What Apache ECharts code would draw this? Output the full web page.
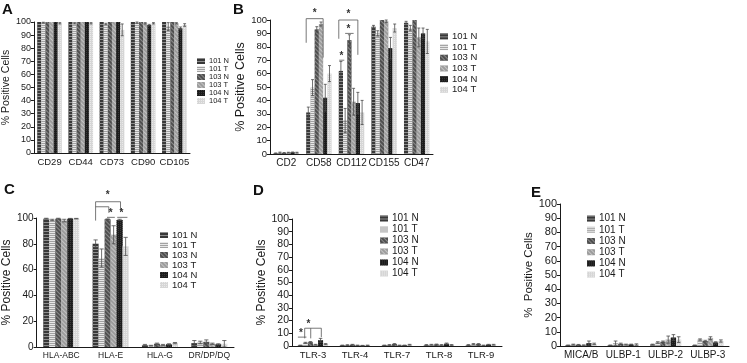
<!DOCTYPE html>
<html>
<head>
<meta charset="utf-8">
<script src="https://cdn.jsdelivr.net/npm/echarts@6/dist/echarts.min.js"></script>
<style>
  html, body { margin: 0; padding: 0; background: #fff; }
  #chart { width: 747px; height: 363px; }
</style>
</head>
<body>
<div id="chart"></div>
<script>
// donneurs / échantillons
const seriesNames = ["101 N", "101 T", "103 N", "103 T", "104 N", "104 T"];

// A
const catsA = ["CD29", "CD44", "CD73", "CD90", "CD105"];
const valsA = [
  [100, 100, 100, 100, 100],
  [99.5, 99, 98.5, 99.5, 96.5],
  [100, 100, 100, 100, 100],
  [100, 100, 100, 99, 99],
  [100, 100, 100, 97.7, 95.2],
  [99, 99, 94, 99, 97.7],
];
const errA = [
  [0, 0, 0, 0, 0],
  [0.3, 0.5, 0.5, 0.5, 3],
  [0, 0, 0, 0, 0],
  [0, 0, 0, 0.5, 0.5],
  [0, 0, 0, 0.5, 1],
  [0.5, 0.5, 4.5, 0.5, 1],
];

// B
const catsB = ["CD2", "CD58", "CD112", "CD155", "CD47"];
const valsB = [
  [0.5, 31, 62, 95, 98],
  [1, 49.5, 25, 90, 94],
  [0.8, 93, 85, 100, 100],
  [1, 97, 39, 99, 87],
  [1.2, 42, 38, 79, 90],
  [1, 60, 31, 94, 84],
];
const errB = [
  [0.3, 4, 7, 1, 1],
  [0.4, 6, 9, 2, 2],
  [0.3, 2, 4, 0, 0],
  [0.3, 1.5, 10, 1, 7],
  [0.3, 10, 8, 8, 4],
  [0.3, 6, 9, 3, 9],
];

// C
const catsC = ["HLA-ABC", "HLA-E", "HLA-G", "DR/DP/DQ"];
const valsC = [
  [99.5, 80, 1.5, 3],
  [98.5, 69, 1, 3.5],
  [99.5, 99, 2.5, 4],
  [98, 87, 1.5, 2.5],
  [99.5, 98.5, 2, 2],
  [99.5, 78, 3, 2.5],
];
const errC = [
  [0.3, 3, 0.5, 2],
  [0.5, 7, 0.3, 1],
  [0.3, 0.3, 0.5, 1.5],
  [1, 7, 0.5, 0.5],
  [0.2, 0.5, 0.5, 0.5],
  [0.2, 7, 0.5, 2.5],
];

// D
const catsD = ["TLR-3", "TLR-4", "TLR-7", "TLR-8", "TLR-9"];
const valsD = [
  [0.5, 0.5, 0.5, 0.8, 0.8],
  [2.5, 0.7, 0.8, 1, 1.5],
  [3, 1, 1.5, 1.2, 1.5],
  [1, 0.5, 0.5, 0.8, 0.5],
  [4.5, 0.3, 0.5, 1.8, 1],
  [1.5, 0.5, 1, 0.8, 1],
];
const errD = [
  [0.2, 0.2, 0.2, 0.3, 0.3],
  [0.4, 0.3, 0.3, 0.3, 0.4],
  [0.5, 0.3, 0.4, 0.3, 0.4],
  [0.3, 0.2, 0.2, 0.3, 0.2],
  [1.5, 0.2, 0.2, 0.5, 0.3],
  [0.4, 0.2, 0.3, 0.3, 0.3],
];

// E
const catsE = ["MICA/B", "ULBP-1", "ULBP-2", "ULBP-3"];
const valsE = [
  [0.5, 0.5, 1, 0.5],
  [1, 2, 2.5, 4.5],
  [0.8, 1.5, 3, 3.5],
  [0.5, 1, 4.5, 5.5],
  [2, 1, 6, 2.5],
  [1.5, 1, 4.5, 3.5],
];
const errE = [
  [0.2, 0.2, 0.3, 0.2],
  [0.3, 1.5, 0.5, 0.5],
  [0.3, 0.5, 0.5, 0.5],
  [0.3, 0.3, 2.5, 1],
  [1.5, 0.3, 2, 0.5],
  [0.5, 0.5, 2, 0.8],
];

// annotations de significativité : [catégorie, barre1, valeur1, barre2, valeur2]
const bracketsB = [
  [1, -0.5, 83, -0.5, 101], [1, -0.5, 101, 3.5, 101], [1, 3.5, 101, 3.5, 72],
  [2, -0.5, 86, -0.5, 100], [2, -0.5, 100, 4, 100], [2, 4, 100, 4, 74],
  [2, 1, 90, 3, 90], [2, -0.4, 70, 0.8, 70],
];
const starsB = [[1, 1.5, 105], [2, 1.8, 104], [2, 1.8, 93], [2, 0.1, 73]];

const bracketsC = [
  [1, 0, 98, 0, 112.6], [1, 0, 112.6, 4.15, 112.6], [1, 4.15, 112.6, 4.15, 106],
  [1, 0, 108.7, 2.2, 108.7], [1, 2.2, 108.7, 2.2, 104],
  [1, 1.9, 100.5, 3.2, 100.5], [1, 3.6, 100.5, 5.3, 100.5],
];
const starsC = [[1, 2, 118], [1, 2.5, 103.5], [1, 4.3, 103.5]];

const bracketsD = [
  [0, -0.5, 7, 1.2, 7],
  [0, 0.85, 14, 4.15, 14], [0, 0.85, 14, 0.85, 6], [0, 2.05, 14, 2.05, 6], [0, 4.15, 14, 4.15, 7],
];
const starsD = [[0, 0.1, 10], [0, 1.6, 17]];

const textColor = "#1a1a1a";
const font = "Liberation Sans, Arial, sans-serif";

// motifs des barres
const barStyles = [
  { color: "#383838", decal: { symbol: "rect", symbolSize: 1, color: "#8e8e8e", dashArrayX: [1, 0], dashArrayY: [1, 2] } },
  { color: "#a2a2a2", decal: { symbol: "rect", symbolSize: 1, color: "#e8e8e8", dashArrayX: [1, 0], dashArrayY: [1, 1] } },
  { color: "#4f4f4f", decal: { symbol: "rect", symbolSize: 1, color: "#8a8a8a", dashArrayX: [1, 0], dashArrayY: [1, 2], rotation: Math.PI / 4 } },
  { color: "#9c9c9c", decal: { symbol: "rect", symbolSize: 1, color: "#c4c4c4", dashArrayX: [1, 0], dashArrayY: [1, 2], rotation: Math.PI / 4 } },
  { color: "#1c1c1c", decal: { symbol: "rect", symbolSize: 1, color: "#3a3a3a", dashArrayX: [1, 1], dashArrayY: [1, 1] } },
  { color: "#d6d6d6", decal: { symbol: "rect", symbolSize: 1, color: "#eaeaea", dashArrayX: [1, 1], dashArrayY: [1, 1] } },
];

const panels = [
  { key: "A", cats: catsA, vals: valsA, errs: errA, gap: 0.21,
    grid: { left: 33, top: 22, width: 157, height: 131 },
    tickFont: 9, catFont: 9.5, nameFont: 10.5, nameGap: 17,
    legend: { left: 197, top: 57, font: 7.5, line: 7.6, gap: 0 } },
  { key: "B", cats: catsB, vals: valsB, errs: errB, gap: 0.22, brackets: bracketsB, stars: starsB,
    grid: { left: 270, top: 20, width: 163, height: 134 },
    tickFont: 9.5, catFont: 10, nameFont: 12.5, nameGap: 20,
    legend: { left: 440, top: 31, font: 9.5, line: 10.7, gap: 0 } },
  { key: "C", cats: catsC, vals: valsC, errs: errC, gap: 0.27, brackets: bracketsC, stars: starsC, tickStep: 20,
    grid: { left: 34, top: 218, width: 200, height: 129 },
    tickFont: 10, catFont: 8.5, nameFont: 12, nameGap: 19,
    legend: { left: 160, top: 230, font: 9.5, line: 9.4, gap: 0 } },
  { key: "D", cats: catsD, vals: valsD, errs: errD, gap: 0.28, brackets: bracketsD, stars: starsD,
    grid: { left: 292, top: 219, width: 210, height: 127 },
    tickFont: 10.5, catFont: 9.5, nameFont: 12, nameGap: 22,
    legend: { left: 380, top: 213, font: 10, line: 11, gap: 0 } },
  { key: "E", cats: catsE, vals: valsE, errs: errE, gap: 0.26, name: "%  Positive Cells",
    grid: { left: 560, top: 204, width: 169, height: 142 },
    tickFont: 11, catFont: 10, nameFont: 11.5, nameGap: 22,
    legend: { left: 587, top: 213, font: 10, line: 11.2, gap: 0 } },
];

const letterPos = { A: [2, 2], B: [233, 2], C: [4, 182], D: [253, 183], E: [531, 185] };

function errorRender(gap) {
  return function (params, api) {
    const c = api.value(0), s = api.value(1), v = api.value(2), e = api.value(3);
    const bw = api.size([1, 0])[0] * (1 - gap) / 6;
    const x = api.coord([c, v])[0] + (s - 2.5) * bw;
    const yt = api.coord([c, v + e])[1];
    const yb = api.coord([c, Math.max(v - e, 0)])[1];
    const cap = Math.max(bw * 0.35, 1.2);
    const st = { stroke: "#4a4a4a", lineWidth: 0.8 };
    return {
      type: "group",
      children: [
        { type: "line", shape: { x1: x, y1: yt, x2: x, y2: yb }, style: st },
        { type: "line", shape: { x1: x - cap, y1: yt, x2: x + cap, y2: yt }, style: st },
        { type: "line", shape: { x1: x - cap, y1: yb, x2: x + cap, y2: yb }, style: st },
      ],
    };
  };
}

function bracketRender(gap) {
  return function (params, api) {
    const c = api.value(0);
    const bw = api.size([1, 0])[0] * (1 - gap) / 6;
    const p1 = api.coord([c, api.value(2)]);
    const p2 = api.coord([c, api.value(4)]);
    return {
      type: "line",
      shape: { x1: p1[0] + (api.value(1) - 2.5) * bw, y1: p1[1], x2: p2[0] + (api.value(3) - 2.5) * bw, y2: p2[1] },
      style: { stroke: "#555", lineWidth: 0.8 },
    };
  };
}

function starRender(gap) {
  return function (params, api) {
    const c = api.value(0);
    const bw = api.size([1, 0])[0] * (1 - gap) / 6;
    const p = api.coord([c, api.value(2)]);
    return {
      type: "text",
      x: p[0] + (api.value(1) - 2.5) * bw,
      y: p[1],
      style: { text: "*", fontSize: 10, fontFamily: font, fontWeight: "bold", fill: "#333", align: "center", verticalAlign: "middle" },
    };
  };
}

const chart = echarts.init(document.getElementById("chart"));

const grid = [], xAxis = [], yAxis = [], legend = [], series = [];

panels.forEach((p, i) => {
  grid.push(Object.assign({ containLabel: false }, p.grid));
  xAxis.push({
    gridIndex: i, type: "category", data: p.cats,
    axisLine: { lineStyle: { color: textColor, width: 1 } },
    axisTick: { alignWithLabel: true, length: 3, lineStyle: { color: textColor } },
    axisLabel: { interval: 0, fontSize: p.catFont, color: textColor, fontFamily: font, margin: 4 },
  });
  yAxis.push({
    gridIndex: i, type: "value", min: 0, max: 100, interval: p.tickStep || 10,
    name: p.name || "% Positive Cells", nameLocation: "middle", nameGap: p.nameGap,
    nameTextStyle: { fontSize: p.nameFont, color: textColor, fontFamily: font },
    axisLine: { show: true, lineStyle: { color: textColor, width: 1 } },
    axisTick: { show: true, length: 3, lineStyle: { color: textColor } },
    axisLabel: { fontSize: p.tickFont, color: textColor, fontFamily: font, margin: 3 },
    splitLine: { show: false },
  });
  legend.push({
    data: seriesNames, orient: "vertical", left: p.legend.left, top: p.legend.top,
    icon: "rect", itemWidth: 8, itemHeight: 6, itemGap: p.legend.gap,
    selectedMode: false, padding: 0,
    textStyle: { fontSize: p.legend.font, lineHeight: p.legend.line, color: textColor, fontFamily: font, padding: [0, 0, 0, -1] },
  });

  seriesNames.forEach((name, s) => {
    series.push({
      name, type: "bar", xAxisIndex: i, yAxisIndex: i,
      data: p.vals[s], barGap: "0%", barCategoryGap: (p.gap * 100) + "%",
      itemStyle: barStyles[s], emphasis: { disabled: true }, animation: false,
    });
  });

  const errData = [];
  p.errs.forEach((row, s) => row.forEach((e, c) => {
    if (e > 0) errData.push([c, s, p.vals[s][c], e]);
  }));
  series.push({
    type: "custom", xAxisIndex: i, yAxisIndex: i, data: errData,
    encode: { x: 0, y: 2 }, renderItem: errorRender(p.gap), clip: false, silent: true, z: 5, animation: false,
  });
  if (p.brackets) {
    series.push({
      type: "custom", xAxisIndex: i, yAxisIndex: i, data: p.brackets,
      encode: { x: 0, y: 2 }, renderItem: bracketRender(p.gap), clip: false, silent: true, z: 6, animation: false,
    });
    series.push({
      type: "custom", xAxisIndex: i, yAxisIndex: i, data: p.stars,
      encode: { x: 0, y: 2 }, renderItem: starRender(p.gap), clip: false, silent: true, z: 6, animation: false,
    });
  }
});

const graphic = panels.map((p) => ({
  type: "text", left: letterPos[p.key][0], top: letterPos[p.key][1],
  style: { text: p.key, fontSize: 15, fontWeight: "bold", fontFamily: font, fill: "#111" },
}));

chart.setOption({
  animation: false,
  backgroundColor: "#fff",
  textStyle: { fontFamily: font },
  grid, xAxis, yAxis, legend, series, graphic,
});
</script>
</body>
</html>
